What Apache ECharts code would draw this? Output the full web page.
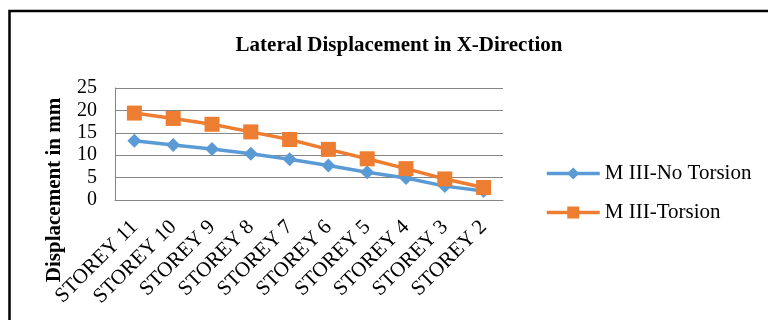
<!DOCTYPE html>
<html>
<head>
<meta charset="utf-8">
<script src="https://cdn.jsdelivr.net/npm/echarts@6/dist/echarts.min.js"></script>
<style>
  html, body { margin: 0; padding: 0; background: #fff; }
  #chart { width: 768px; height: 320px; }
</style>
</head>
<body>
<div id="chart"></div>
<script>
// Storeys from top to bottom of the building
const storeys = ['STOREY 11', 'STOREY 10', 'STOREY 9', 'STOREY 8', 'STOREY 7',
                 'STOREY 6', 'STOREY 5', 'STOREY 4', 'STOREY 3', 'STOREY 2'];
// Lateral displacement (mm) in X-direction
const noTorsion = [13.2, 12.3, 11.4, 10.3, 9.1, 7.7, 6.2, 4.9, 3.1, 2.0];
const withTorsion = [19.4, 18.2, 16.9, 15.2, 13.5, 11.3, 9.2, 7.0, 4.7, 2.8];
const seriesNames = ['M III-No Torsion', 'M III-Torsion'];
const titleText = 'Lateral Displacement in X-Direction';
const yTitle = 'Displacement in mm';

const FONT = '"Liberation Serif", "Times New Roman", serif';
const chart = echarts.init(document.getElementById('chart'), null, { renderer: 'canvas' });

chart.setOption({
  animation: false,
  backgroundColor: '#ffffff',
  title: {
    text: titleText,
    left: 394,
    top: 30,
    textAlign: 'center',
    textStyle: { fontFamily: FONT, fontSize: 21, fontWeight: 'bold', color: '#000' }
  },
  graphic: [
    {
      type: 'rect',
      shape: { x: 9.5, y: 11, width: 800, height: 400 },
      style: { fill: 'none', stroke: '#000', lineWidth: 2.5 },
      silent: true
    },
    {
      type: 'text',
      x: 55,
      y: 190,
      rotation: Math.PI / 2,
      style: {
        text: yTitle,
        fontFamily: FONT,
        fontSize: 21,
        fontWeight: 'bold',
        fill: '#000',
        align: 'center',
        verticalAlign: 'middle'
      }
    }
  ],
  legend: {
    orient: 'vertical',
    left: 540,
    top: 158,
    itemWidth: 53,
    itemHeight: 15,
    itemGap: 18,
    lineStyle: { width: 3.5 },
    textStyle: { fontFamily: FONT, fontSize: 21, color: '#000' },
    data: seriesNames
  },
  grid: { left: 115, right: 265, top: 88, bottom: 120, containLabel: false },
  xAxis: {
    type: 'category',
    data: storeys,
    boundaryGap: true,
    axisLine: { show: true, lineStyle: { color: '#868686', width: 1 } },
    axisTick: { show: false },
    axisLabel: {
      rotate: 45,
      margin: 24,
      interval: 0,
      fontFamily: FONT,
      fontSize: 21,
      color: '#000'
    }
  },
  yAxis: {
    type: 'value',
    min: 0,
    max: 25,
    interval: 5,
    axisLine: { show: true, lineStyle: { color: '#868686', width: 1 } },
    axisTick: { show: false },
    splitLine: { show: true, lineStyle: { color: '#868686', width: 1 } },
    axisLabel: { margin: 18, fontFamily: FONT, fontSize: 20, color: '#000' }
  },
  series: [
    {
      name: seriesNames[0],
      type: 'line',
      data: noTorsion,
      symbol: 'diamond',
      symbolSize: 14,
      lineStyle: { color: '#5B9BD5', width: 3.5 },
      itemStyle: { color: '#5B9BD5' }
    },
    {
      name: seriesNames[1],
      type: 'line',
      data: withTorsion,
      symbol: 'rect',
      symbolSize: 15,
      lineStyle: { color: '#ED7D31', width: 3.5 },
      itemStyle: { color: '#ED7D31' }
    }
  ]
});
</script>
</body>
</html>
